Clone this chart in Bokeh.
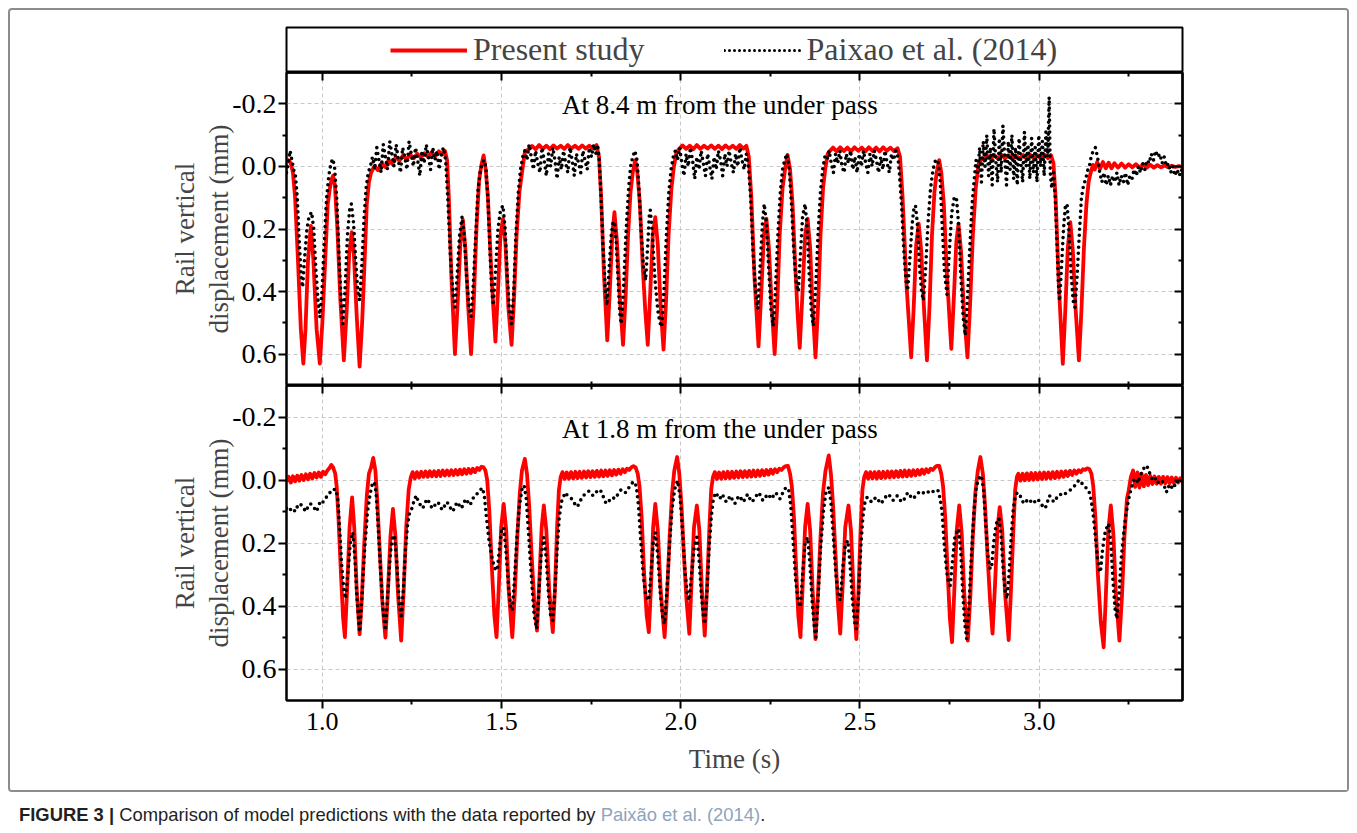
from bokeh.plotting import figure
from bokeh.models import (Range1d, LinearAxis, FixedTicker, PrintfTickFormatter,
                          Label, Legend, LegendItem, Div, Grid, ColumnDataSource, Spacer)
from bokeh.layouts import column, row
from bokeh.embed import file_html
from bokeh.resources import INLINE

# ---------------- data ----------------
x_major = [1.0, 1.5, 2.0, 2.5, 3.0]
x_minor = [1.25, 1.75, 2.25, 2.75, 3.25]
y_major = [-0.2, 0.0, 0.2, 0.4, 0.6]
y_minor = [-0.1, 0.1, 0.3, 0.5]
x_limits = (0.9, 3.4)
y_limits = (0.7, -0.3)
series_names = ["Present study", "Paixao et al. (2014)"]
panel_titles = ["At 8.4 m from the under pass", "At 1.8 m from the under pass"]

# (time s, displacement mm) -- top panel, model
top_model = [
 (0.900,-0.015),(0.905,-0.020),(0.912,-0.010),(0.918,0.020),(0.924,0.100),(0.932,0.300),(0.940,0.520),(0.947,0.630),
 (0.953,0.520),(0.960,0.300),(0.968,0.190),(0.975,0.300),(0.984,0.520),(0.993,0.630),(1.000,0.500),(1.008,0.300),
 (1.015,0.120),(1.021,0.070),(1.026,0.040),(1.030,0.030),(1.035,0.060),(1.042,0.200),(1.050,0.420),(1.060,0.620),
 (1.067,0.480),(1.075,0.280),(1.082,0.210),(1.088,0.280),(1.096,0.480),(1.104,0.640),(1.111,0.500),(1.118,0.300),
 (1.124,0.120),(1.130,0.050),(1.136,0.020),
 (1.145,0.000),(1.155,0.012),(1.165,-0.010),(1.175,0.002),(1.185,-0.020),(1.195,-0.008),(1.205,-0.030),(1.215,-0.018),
 (1.225,-0.035),(1.235,-0.022),(1.245,-0.038),(1.255,-0.026),(1.265,-0.040),(1.275,-0.028),(1.285,-0.042),(1.295,-0.030),
 (1.305,-0.045),(1.315,-0.033),(1.325,-0.048),(1.335,-0.038),(1.342,-0.050),
 (1.348,-0.020),(1.353,0.100),(1.360,0.350),(1.370,0.600),(1.377,0.450),(1.385,0.250),(1.392,0.170),(1.399,0.260),
 (1.407,0.450),(1.415,0.600),(1.422,0.450),(1.430,0.200),(1.437,0.050),(1.443,0.000),(1.450,-0.035),(1.456,0.010),
 (1.462,0.100),(1.470,0.300),(1.477,0.450),(1.483,0.560),(1.490,0.400),(1.497,0.220),(1.504,0.167),(1.511,0.250),
 (1.519,0.450),(1.528,0.570),(1.535,0.420),(1.542,0.220),(1.550,0.080),(1.557,0.020),(1.565,-0.045),
 (1.575,-0.055),(1.585,-0.065),(1.595,-0.055),(1.605,-0.068),(1.615,-0.056),(1.625,-0.066),(1.635,-0.055),(1.645,-0.067),
 (1.655,-0.057),(1.665,-0.066),(1.675,-0.056),(1.685,-0.068),(1.695,-0.057),(1.705,-0.066),(1.715,-0.056),(1.725,-0.067),
 (1.735,-0.057),(1.745,-0.066),(1.755,-0.058),(1.765,-0.068),
 (1.772,-0.030),(1.778,0.100),(1.786,0.350),(1.795,0.556),(1.802,0.400),(1.809,0.220),(1.815,0.146),(1.822,0.240),
 (1.830,0.420),(1.839,0.570),(1.846,0.420),(1.853,0.220),(1.860,0.080),(1.866,0.020),(1.873,-0.020),(1.879,0.020),
 (1.886,0.120),(1.894,0.320),(1.901,0.460),(1.908,0.570),(1.915,0.400),(1.922,0.220),(1.929,0.162),(1.936,0.250),
 (1.944,0.450),(1.952,0.585),(1.959,0.430),(1.966,0.220),(1.974,0.070),(1.981,0.000),(1.988,-0.045),
 (1.995,-0.055),(2.005,-0.067),(2.015,-0.056),(2.025,-0.066),(2.035,-0.055),(2.045,-0.068),(2.055,-0.056),(2.065,-0.066),
 (2.075,-0.057),(2.085,-0.067),(2.095,-0.056),(2.105,-0.066),(2.115,-0.055),(2.125,-0.067),(2.135,-0.057),(2.145,-0.066),
 (2.155,-0.056),(2.165,-0.068),(2.175,-0.057),(2.183,-0.066),
 (2.190,-0.030),(2.197,0.100),(2.206,0.360),(2.217,0.575),(2.224,0.420),(2.232,0.220),(2.239,0.167),(2.246,0.260),
 (2.254,0.450),(2.262,0.600),(2.269,0.450),(2.276,0.220),(2.284,0.070),(2.291,0.010),(2.298,-0.037),(2.305,0.010),
 (2.312,0.120),(2.320,0.330),(2.326,0.470),(2.332,0.580),(2.339,0.420),(2.347,0.220),(2.354,0.167),(2.361,0.260),
 (2.368,0.450),(2.376,0.610),(2.383,0.450),(2.390,0.220),(2.397,0.070),(2.403,0.010),(2.410,-0.040),
 (2.415,-0.048),(2.425,-0.060),(2.435,-0.048),(2.445,-0.061),(2.455,-0.049),(2.465,-0.060),(2.475,-0.048),(2.485,-0.061),
 (2.495,-0.050),(2.505,-0.060),(2.515,-0.048),(2.525,-0.061),(2.535,-0.049),(2.545,-0.060),(2.555,-0.048),(2.565,-0.061),
 (2.575,-0.050),(2.585,-0.060),(2.595,-0.049),(2.605,-0.058),
 (2.612,-0.030),(2.619,0.100),(2.630,0.380),(2.643,0.610),(2.650,0.450),(2.657,0.250),(2.664,0.183),(2.671,0.270),
 (2.679,0.460),(2.687,0.620),(2.694,0.450),(2.701,0.220),(2.708,0.080),(2.714,0.020),(2.721,-0.020),(2.727,0.020),
 (2.734,0.120),(2.742,0.330),(2.749,0.470),(2.755,0.583),(2.762,0.420),(2.769,0.240),(2.775,0.183),(2.782,0.270),
 (2.790,0.460),(2.800,0.610),(2.807,0.450),(2.815,0.220),(2.823,0.070),(2.831,-0.008),(2.840,-0.025),
 (2.845,-0.022),(2.855,-0.034),(2.865,-0.024),(2.875,-0.036),(2.885,-0.025),(2.895,-0.037),(2.905,-0.026),(2.915,-0.036),
 (2.925,-0.025),(2.935,-0.035),(2.945,-0.024),(2.955,-0.036),(2.965,-0.025),(2.975,-0.037),(2.985,-0.026),(2.995,-0.036),
 (3.005,-0.025),(3.015,-0.037),(3.025,-0.026),(3.033,-0.036),
 (3.040,-0.010),(3.046,0.100),(3.055,0.380),(3.066,0.631),(3.073,0.460),(3.080,0.260),(3.087,0.178),(3.094,0.270),
 (3.102,0.460),(3.111,0.620),(3.118,0.460),(3.125,0.260),(3.132,0.120),(3.138,0.050),(3.143,0.024),(3.150,-0.005),
 (3.155,0.010),(3.162,-0.014),(3.170,0.008),(3.178,-0.014),(3.186,0.006),(3.194,-0.012),(3.202,0.006),(3.210,-0.010),
 (3.220,0.004),(3.230,-0.009),(3.240,0.004),(3.250,-0.007),(3.260,0.003),(3.270,-0.007),(3.280,0.004),(3.290,-0.006),
 (3.300,0.004),(3.310,-0.005),(3.320,0.004),(3.330,-0.004),(3.340,0.003),(3.350,-0.003),(3.360,0.003),(3.370,-0.002),
 (3.380,0.002),(3.390,-0.001),(3.400,0.002),
]

# top panel, measurements (Paixao et al.)
top_exp = [
 (0.900,0.020),(0.905,-0.010),(0.910,-0.050),(0.915,-0.020),(0.920,0.010),(0.925,0.030),(0.930,0.100),(0.936,0.250),
 (0.941,0.350),(0.945,0.386),(0.950,0.300),(0.957,0.200),(0.963,0.160),(0.970,0.146),(0.976,0.200),(0.982,0.330),
 (0.988,0.430),(0.993,0.482),(0.999,0.400),(1.005,0.250),(1.012,0.100),(1.018,0.030),(1.024,-0.010),(1.029,-0.024),
 (1.034,0.000),(1.040,0.100),(1.046,0.270),(1.052,0.420),(1.057,0.503),(1.063,0.400),(1.070,0.220),(1.076,0.140),
 (1.081,0.120),(1.087,0.180),(1.093,0.300),(1.099,0.400),(1.104,0.428),(1.110,0.320),(1.116,0.170),(1.122,0.070),
 (1.128,0.020),(1.134,0.000),
 (1.140,-0.030),(1.146,0.010),(1.152,-0.060),(1.158,-0.020),(1.164,0.020),(1.170,-0.070),(1.176,-0.030),(1.182,0.010),
 (1.188,-0.080),(1.194,-0.040),(1.200,0.000),(1.206,-0.070),(1.212,-0.020),(1.218,0.020),(1.224,-0.060),(1.230,-0.030),
 (1.236,0.010),(1.242,-0.080),(1.248,-0.040),(1.254,0.000),(1.260,-0.060),(1.266,-0.020),(1.272,0.030),(1.278,-0.050),
 (1.284,-0.010),(1.290,-0.070),(1.296,-0.030),(1.302,0.010),(1.308,-0.060),(1.314,-0.020),(1.320,-0.050),(1.326,0.010),
 (1.332,-0.040),(1.338,-0.060),
 (1.344,-0.020),(1.350,0.100),(1.357,0.280),(1.364,0.400),(1.370,0.450),(1.376,0.350),(1.383,0.220),(1.390,0.160),
 (1.396,0.220),(1.403,0.360),(1.409,0.450),(1.415,0.480),(1.421,0.380),(1.428,0.220),(1.434,0.080),(1.440,0.020),
 (1.446,-0.010),(1.451,-0.020),(1.456,0.000),(1.462,0.100),(1.468,0.280),(1.473,0.400),(1.477,0.444),(1.483,0.340),
 (1.490,0.200),(1.497,0.140),(1.504,0.125),(1.510,0.200),(1.516,0.350),(1.522,0.460),(1.528,0.503),(1.534,0.400),
 (1.540,0.220),(1.547,0.080),(1.553,0.010),(1.559,-0.030),
 (1.565,-0.050),(1.571,-0.020),(1.577,-0.070),(1.583,-0.030),(1.589,0.010),(1.595,-0.050),(1.601,-0.010),(1.607,0.020),
 (1.613,-0.060),(1.619,-0.020),(1.625,0.030),(1.631,-0.040),(1.637,0.000),(1.643,-0.060),(1.649,-0.020),(1.655,0.040),
 (1.661,-0.030),(1.667,0.010),(1.673,-0.050),(1.679,-0.010),(1.685,0.020),(1.691,-0.060),(1.697,-0.020),(1.703,0.030),
 (1.709,-0.040),(1.715,-0.010),(1.721,0.020),(1.727,-0.050),(1.733,-0.020),(1.739,0.010),(1.745,-0.060),(1.751,-0.030),
 (1.757,-0.070),(1.763,-0.040),(1.768,-0.070),
 (1.772,-0.030),(1.777,0.080),(1.783,0.250),(1.789,0.380),(1.794,0.444),(1.800,0.330),(1.806,0.220),(1.811,0.180),
 (1.815,0.176),(1.820,0.240),(1.826,0.380),(1.830,0.470),(1.834,0.503),(1.840,0.400),(1.847,0.220),(1.854,0.080),
 (1.860,0.000),(1.866,-0.030),(1.872,-0.050),(1.878,-0.020),(1.884,0.080),(1.890,0.220),(1.896,0.320),(1.902,0.364),
 (1.908,0.250),(1.912,0.160),(1.915,0.140),(1.920,0.200),(1.928,0.360),(1.936,0.460),(1.942,0.500),(1.947,0.513),
 (1.953,0.400),(1.960,0.220),(1.967,0.080),(1.973,0.010),(1.979,-0.030),(1.985,-0.050),
 (1.991,-0.020),(1.997,-0.060),(2.003,-0.010),(2.009,0.030),(2.015,-0.040),(2.021,0.000),(2.027,-0.060),(2.033,-0.020),
 (2.039,0.040),(2.045,-0.030),(2.051,0.010),(2.057,-0.050),(2.063,-0.010),(2.069,0.030),(2.075,-0.040),(2.081,0.000),
 (2.087,0.040),(2.093,-0.030),(2.099,0.010),(2.105,-0.050),(2.111,-0.020),(2.117,0.030),(2.123,-0.040),(2.129,0.000),
 (2.135,-0.050),(2.141,-0.010),(2.147,0.020),(2.153,-0.040),(2.159,0.000),(2.165,-0.060),(2.171,-0.020),(2.177,0.010),
 (2.183,-0.040),
 (2.189,0.000),(2.195,0.100),(2.202,0.280),(2.209,0.400),(2.215,0.455),(2.221,0.330),(2.228,0.180),(2.233,0.120),
 (2.239,0.180),(2.246,0.340),(2.252,0.460),(2.258,0.510),(2.264,0.400),(2.271,0.220),(2.278,0.080),(2.284,0.010),
 (2.290,-0.020),(2.296,-0.040),(2.302,0.000),(2.309,0.120),(2.316,0.280),(2.322,0.370),(2.328,0.400),(2.334,0.280),
 (2.340,0.160),(2.347,0.120),(2.353,0.200),(2.359,0.360),(2.365,0.470),(2.370,0.510),(2.376,0.400),(2.383,0.220),
 (2.390,0.080),(2.396,0.010),(2.402,-0.030),(2.408,-0.020),
 (2.414,-0.050),(2.420,-0.010),(2.426,0.020),(2.432,-0.040),(2.438,-0.010),(2.444,-0.050),(2.450,0.000),(2.456,0.020),
 (2.462,-0.040),(2.468,-0.010),(2.474,-0.050),(2.480,0.010),(2.486,-0.030),(2.492,0.020),(2.498,-0.040),(2.504,0.000),
 (2.510,-0.050),(2.516,-0.010),(2.522,0.020),(2.528,-0.040),(2.534,0.000),(2.540,-0.050),(2.546,-0.020),(2.552,0.020),
 (2.558,-0.030),(2.564,0.010),(2.570,-0.050),(2.576,-0.010),(2.582,0.020),(2.588,-0.040),(2.594,-0.020),(2.600,-0.050),
 (2.606,-0.030),
 (2.610,0.020),(2.616,0.120),(2.622,0.260),(2.628,0.360),(2.633,0.397),(2.639,0.300),(2.646,0.180),(2.651,0.130),
 (2.655,0.125),(2.660,0.180),(2.666,0.320),(2.672,0.400),(2.677,0.428),(2.683,0.330),(2.690,0.180),(2.697,0.070),
 (2.704,0.010),(2.711,-0.020),(2.718,-0.019),(2.724,0.050),(2.730,0.200),(2.736,0.340),(2.743,0.409),(2.749,0.280),
 (2.756,0.150),(2.763,0.100),(2.769,0.098),(2.775,0.180),(2.781,0.340),(2.788,0.480),(2.794,0.540),(2.800,0.420),
 (2.807,0.250),(2.813,0.120),(2.819,0.040),(2.824,-0.020),
 (2.829,0.020),(2.834,-0.060),(2.839,0.050),(2.844,-0.080),(2.849,0.000),(2.854,-0.100),(2.859,0.030),(2.864,-0.060),
 (2.869,0.060),(2.874,-0.120),(2.879,-0.020),(2.884,0.050),(2.889,-0.090),(2.894,0.020),(2.899,-0.130),(2.904,-0.030),
 (2.909,0.060),(2.914,-0.080),(2.919,0.010),(2.924,-0.100),(2.929,0.040),(2.934,-0.060),(2.939,0.060),(2.944,-0.090),
 (2.949,-0.010),(2.954,0.050),(2.959,-0.110),(2.964,0.000),(2.969,-0.070),(2.974,0.040),(2.979,-0.090),(2.984,0.020),
 (2.989,-0.060),(2.994,0.050),(2.999,-0.100),(3.004,0.000),(3.009,-0.080),(3.014,0.030),(3.019,-0.110),(3.024,-0.030),
 (3.028,-0.221),(3.031,0.020),(3.035,0.070),(3.040,0.020),(3.045,0.100),
 (3.050,0.250),(3.054,0.380),(3.057,0.430),(3.062,0.330),(3.068,0.200),(3.073,0.130),(3.078,0.120),(3.083,0.200),
 (3.089,0.340),(3.095,0.430),(3.100,0.450),(3.106,0.350),(3.112,0.220),(3.118,0.100),(3.124,0.060),(3.130,0.040),
 (3.136,0.010),(3.140,0.000),(3.145,-0.030),(3.151,-0.050),(3.157,-0.060),(3.163,-0.030),(3.169,0.020),(3.175,0.050),
 (3.181,0.020),(3.187,0.060),(3.193,0.030),(3.199,0.060),(3.205,0.030),(3.211,0.050),(3.217,0.020),(3.223,0.060),
 (3.229,0.030),(3.235,0.050),(3.241,0.020),(3.247,0.060),(3.253,0.030),(3.259,0.040),(3.265,0.010),(3.271,0.030),
 (3.277,0.000),(3.283,0.020),(3.289,-0.010),(3.295,0.010),(3.301,-0.020),(3.307,-0.010),(3.313,-0.040),(3.319,-0.020),
 (3.325,-0.050),(3.331,-0.030),(3.337,-0.040),(3.343,-0.010),(3.349,-0.030),(3.355,0.000),(3.361,-0.010),(3.367,0.020),
 (3.373,0.000),(3.379,0.030),(3.385,0.010),(3.391,0.030),(3.397,0.010),(3.400,0.020),
]

# bottom panel, model
bottom_model = [
 (0.900,0.005),(0.906,-0.010),(0.912,0.008),(0.918,-0.012),(0.924,0.004),(0.930,-0.014),(0.936,0.002),(0.942,-0.016),
 (0.948,0.000),(0.954,-0.018),(0.960,-0.002),(0.966,-0.020),(0.972,-0.005),(0.978,-0.022),(0.984,-0.008),(0.990,-0.024),
 (0.996,-0.010),(1.002,-0.026),(1.008,-0.018),(1.014,-0.030),(1.020,-0.038),(1.025,-0.048),(1.030,-0.040),(1.036,-0.020),
 (1.040,0.020),
 (1.045,0.120),(1.052,0.300),(1.058,0.440),(1.063,0.499),(1.069,0.350),(1.076,0.150),(1.083,0.055),(1.089,0.150),
 (1.096,0.350),(1.104,0.490),(1.110,0.380),(1.117,0.200),(1.124,0.050),(1.130,-0.020),(1.136,-0.040),(1.142,-0.070),
 (1.148,-0.030),(1.153,0.060),(1.160,0.220),(1.167,0.380),(1.176,0.500),(1.182,0.380),(1.190,0.180),(1.197,0.092),
 (1.204,0.180),(1.211,0.360),(1.220,0.510),(1.227,0.350),(1.234,0.150),(1.241,0.030),(1.247,-0.010),(1.252,-0.025),
 (1.258,-0.005),(1.264,-0.025),(1.270,-0.008),(1.276,-0.026),(1.282,-0.010),(1.288,-0.027),(1.294,-0.010),(1.300,-0.028),
 (1.306,-0.012),(1.312,-0.028),(1.318,-0.012),(1.324,-0.029),(1.330,-0.013),(1.336,-0.030),(1.342,-0.014),(1.348,-0.030),
 (1.354,-0.015),(1.360,-0.031),(1.366,-0.016),(1.372,-0.032),(1.378,-0.017),(1.384,-0.033),(1.390,-0.018),(1.396,-0.034),
 (1.402,-0.020),(1.408,-0.035),(1.414,-0.022),(1.420,-0.036),(1.426,-0.025),(1.432,-0.038),(1.438,-0.032),(1.444,-0.042),
 (1.450,-0.040),(1.455,-0.030),(1.460,0.000),
 (1.466,0.100),(1.473,0.280),(1.480,0.430),(1.486,0.499),(1.492,0.350),(1.499,0.150),(1.506,0.076),(1.513,0.160),
 (1.520,0.350),(1.530,0.499),(1.537,0.360),(1.544,0.180),(1.551,0.040),(1.557,-0.030),(1.565,-0.067),(1.571,-0.020),
 (1.577,0.080),(1.584,0.240),(1.591,0.380),(1.599,0.478),(1.605,0.330),(1.612,0.150),(1.618,0.081),(1.625,0.160),
 (1.633,0.350),(1.643,0.483),(1.649,0.350),(1.655,0.150),(1.660,0.033),(1.665,-0.010),
 (1.670,-0.025),(1.676,-0.003),(1.682,-0.024),(1.688,-0.004),(1.694,-0.025),(1.700,-0.005),(1.706,-0.026),(1.712,-0.006),
 (1.718,-0.026),(1.724,-0.007),(1.730,-0.027),(1.736,-0.008),(1.742,-0.028),(1.748,-0.009),(1.754,-0.028),(1.760,-0.010),
 (1.766,-0.029),(1.772,-0.011),(1.778,-0.030),(1.784,-0.012),(1.790,-0.030),(1.796,-0.013),(1.802,-0.031),(1.808,-0.015),
 (1.814,-0.032),(1.820,-0.017),(1.826,-0.033),(1.832,-0.020),(1.838,-0.034),(1.844,-0.025),(1.850,-0.036),(1.856,-0.032),
 (1.862,-0.040),(1.868,-0.044),(1.874,-0.040),(1.880,-0.020),(1.885,0.020),
 (1.891,0.120),(1.898,0.300),(1.905,0.430),(1.911,0.483),(1.917,0.340),(1.923,0.150),(1.929,0.076),(1.936,0.160),
 (1.944,0.350),(1.955,0.499),(1.962,0.360),(1.969,0.180),(1.976,0.040),(1.982,-0.030),(1.990,-0.073),(1.996,-0.020),
 (2.002,0.080),(2.009,0.240),(2.016,0.380),(2.024,0.488),(2.030,0.330),(2.037,0.150),(2.045,0.081),(2.052,0.160),
 (2.059,0.350),(2.067,0.494),(2.073,0.350),(2.080,0.150),(2.085,0.030),(2.090,-0.010),
 (2.095,-0.025),(2.101,-0.003),(2.107,-0.024),(2.113,-0.004),(2.119,-0.025),(2.125,-0.005),(2.131,-0.026),(2.137,-0.006),
 (2.143,-0.026),(2.149,-0.007),(2.155,-0.027),(2.161,-0.008),(2.167,-0.028),(2.173,-0.009),(2.179,-0.028),(2.185,-0.010),
 (2.191,-0.029),(2.197,-0.011),(2.203,-0.030),(2.209,-0.012),(2.215,-0.030),(2.221,-0.013),(2.227,-0.031),(2.233,-0.015),
 (2.239,-0.032),(2.245,-0.017),(2.251,-0.033),(2.257,-0.020),(2.263,-0.034),(2.269,-0.025),(2.275,-0.036),(2.281,-0.032),
 (2.287,-0.040),(2.293,-0.044),(2.299,-0.045),(2.305,-0.020),(2.310,0.020),
 (2.316,0.120),(2.322,0.280),(2.328,0.430),(2.334,0.499),(2.340,0.340),(2.347,0.150),(2.354,0.076),(2.361,0.160),
 (2.368,0.350),(2.376,0.505),(2.383,0.360),(2.390,0.180),(2.397,0.040),(2.404,-0.030),(2.413,-0.078),(2.419,-0.020),
 (2.425,0.080),(2.432,0.240),(2.438,0.380),(2.445,0.488),(2.452,0.330),(2.459,0.150),(2.468,0.081),(2.475,0.160),
 (2.482,0.350),(2.490,0.505),(2.496,0.350),(2.502,0.150),(2.507,0.030),(2.512,-0.010),
 (2.517,-0.025),(2.523,-0.004),(2.529,-0.025),(2.535,-0.005),(2.541,-0.025),(2.547,-0.005),(2.553,-0.026),(2.559,-0.006),
 (2.565,-0.026),(2.571,-0.007),(2.577,-0.027),(2.583,-0.008),(2.589,-0.027),(2.595,-0.009),(2.601,-0.028),(2.607,-0.010),
 (2.613,-0.029),(2.619,-0.011),(2.625,-0.030),(2.631,-0.012),(2.637,-0.030),(2.643,-0.013),(2.649,-0.031),(2.655,-0.015),
 (2.661,-0.032),(2.667,-0.017),(2.673,-0.033),(2.679,-0.020),(2.685,-0.034),(2.691,-0.025),(2.697,-0.036),(2.703,-0.032),
 (2.709,-0.040),(2.715,-0.045),(2.721,-0.045),(2.727,-0.020),(2.732,0.020),
 (2.738,0.120),(2.745,0.300),(2.751,0.440),(2.757,0.515),(2.763,0.360),(2.770,0.160),(2.777,0.081),(2.784,0.170),
 (2.791,0.360),(2.801,0.510),(2.808,0.370),(2.815,0.180),(2.822,0.040),(2.829,-0.030),(2.836,-0.073),(2.843,-0.020),
 (2.849,0.080),(2.856,0.240),(2.863,0.380),(2.870,0.488),(2.877,0.330),(2.884,0.150),(2.890,0.086),(2.897,0.160),
 (2.905,0.360),(2.915,0.508),(2.921,0.360),(2.928,0.160),(2.933,0.033),(2.938,-0.010),
 (2.942,-0.020),(2.948,0.002),(2.954,-0.020),(2.960,0.001),(2.966,-0.021),(2.972,0.000),(2.978,-0.022),(2.984,-0.001),
 (2.990,-0.022),(2.996,-0.002),(3.002,-0.023),(3.008,-0.003),(3.014,-0.024),(3.020,-0.004),(3.026,-0.024),(3.032,-0.005),
 (3.038,-0.025),(3.044,-0.006),(3.050,-0.026),(3.056,-0.008),(3.062,-0.027),(3.068,-0.010),(3.074,-0.028),(3.080,-0.013),
 (3.086,-0.029),(3.092,-0.016),(3.098,-0.030),(3.104,-0.020),(3.110,-0.031),(3.116,-0.025),(3.122,-0.034),(3.128,-0.032),
 (3.134,-0.037),(3.140,-0.035),(3.146,-0.020),(3.151,0.020),
 (3.157,0.120),(3.164,0.300),(3.172,0.450),(3.180,0.531),(3.186,0.370),(3.193,0.160),(3.200,0.081),(3.207,0.170),
 (3.214,0.360),(3.224,0.510),(3.231,0.370),(3.238,0.180),(3.245,0.060),(3.250,0.033),(3.256,-0.010),(3.262,-0.030),
 (3.268,0.022),(3.274,-0.024),(3.280,0.024),(3.286,-0.020),(3.292,0.020),(3.298,-0.016),(3.304,0.016),(3.310,-0.013),
 (3.316,0.013),(3.322,-0.011),(3.328,0.012),(3.334,-0.010),(3.340,0.012),(3.346,-0.010),(3.352,0.011),(3.358,-0.009),
 (3.364,0.010),(3.370,-0.008),(3.376,0.010),(3.382,-0.007),(3.388,0.008),(3.394,-0.006),(3.400,0.006),
]

# bottom panel, measurements (Paixao et al.)
bottom_exp = [
 (0.900,0.090),(0.906,0.085),(0.912,0.095),(0.918,0.090),(0.924,0.100),(0.930,0.085),(0.936,0.075),(0.942,0.080),
 (0.948,0.090),(0.954,0.100),(0.960,0.085),(0.966,0.075),(0.972,0.080),(0.978,0.090),(0.984,0.100),(0.990,0.080),
 (0.996,0.065),(1.002,0.070),(1.008,0.060),(1.014,0.050),(1.020,0.040),(1.026,0.040),(1.032,0.030),(1.038,0.030),
 (1.043,0.060),(1.048,0.150),(1.054,0.270),(1.060,0.350),(1.065,0.377),(1.071,0.300),(1.078,0.200),(1.085,0.166),
 (1.091,0.250),(1.097,0.380),(1.104,0.483),(1.110,0.380),(1.118,0.220),(1.126,0.100),(1.134,0.040),(1.140,0.010),
 (1.145,0.007),(1.150,0.040),(1.156,0.150),(1.163,0.300),(1.170,0.420),(1.176,0.478),(1.183,0.350),(1.190,0.230),
 (1.196,0.180),(1.201,0.176),(1.207,0.250),(1.214,0.380),(1.220,0.440),(1.226,0.350),(1.232,0.220),(1.238,0.140),
 (1.244,0.100),(1.250,0.090),(1.256,0.065),(1.262,0.049),
 (1.268,0.070),(1.274,0.080),(1.280,0.090),(1.286,0.075),(1.292,0.060),(1.298,0.070),(1.304,0.085),(1.310,0.090),
 (1.316,0.075),(1.322,0.070),(1.328,0.080),(1.334,0.095),(1.340,0.085),(1.346,0.070),(1.352,0.075),(1.358,0.090),
 (1.364,0.100),(1.370,0.085),(1.376,0.070),(1.382,0.080),(1.388,0.090),(1.394,0.075),(1.400,0.060),(1.406,0.070),
 (1.412,0.080),(1.418,0.065),(1.424,0.050),(1.430,0.045),(1.436,0.040),(1.442,0.030),(1.447,0.025),(1.452,0.050),
 (1.458,0.120),(1.466,0.200),(1.474,0.250),(1.481,0.280),(1.488,0.287),(1.494,0.220),(1.500,0.160),(1.506,0.150),
 (1.512,0.220),(1.519,0.330),(1.525,0.400),(1.530,0.414),(1.536,0.320),(1.543,0.180),(1.550,0.080),(1.557,0.030),
 (1.563,0.017),(1.569,0.060),(1.576,0.180),(1.584,0.320),(1.591,0.430),(1.598,0.472),(1.604,0.360),(1.611,0.230),
 (1.618,0.182),(1.624,0.240),(1.631,0.360),(1.637,0.430),(1.643,0.446),(1.649,0.350),(1.655,0.220),(1.661,0.120),
 (1.667,0.070),(1.672,0.055),
 (1.678,0.040),(1.684,0.050),(1.690,0.055),(1.696,0.060),(1.702,0.070),(1.708,0.085),(1.714,0.080),(1.720,0.065),
 (1.726,0.055),(1.732,0.045),(1.738,0.040),(1.744,0.035),(1.750,0.045),(1.756,0.050),(1.762,0.040),(1.768,0.035),
 (1.774,0.030),(1.780,0.040),(1.786,0.060),(1.792,0.075),(1.798,0.070),(1.804,0.060),(1.810,0.055),(1.816,0.060),
 (1.822,0.050),(1.828,0.040),(1.834,0.030),(1.840,0.035),(1.846,0.040),(1.852,0.030),(1.858,0.020),(1.864,0.010),
 (1.870,0.005),(1.876,0.020),(1.882,0.080),
 (1.889,0.200),(1.896,0.310),(1.903,0.370),(1.911,0.382),(1.917,0.300),(1.923,0.200),(1.929,0.166),(1.936,0.240),
 (1.943,0.360),(1.950,0.440),(1.955,0.457),(1.962,0.340),(1.969,0.200),(1.976,0.090),(1.983,0.030),(1.991,0.002),
 (1.998,0.050),(2.005,0.160),(2.012,0.290),(2.019,0.370),(2.024,0.382),(2.030,0.300),(2.038,0.210),(2.045,0.182),
 (2.051,0.250),(2.058,0.370),(2.064,0.440),(2.067,0.457),(2.073,0.360),(2.079,0.220),(2.085,0.120),(2.091,0.060),
 (2.097,0.040),
 (2.103,0.050),(2.109,0.060),(2.115,0.045),(2.121,0.055),(2.127,0.070),(2.133,0.060),(2.139,0.050),(2.145,0.065),
 (2.151,0.075),(2.157,0.060),(2.163,0.050),(2.169,0.060),(2.175,0.070),(2.181,0.055),(2.187,0.045),(2.193,0.060),
 (2.199,0.070),(2.205,0.060),(2.211,0.050),(2.217,0.040),(2.223,0.050),(2.229,0.065),(2.235,0.060),(2.241,0.045),
 (2.247,0.050),(2.253,0.060),(2.259,0.050),(2.265,0.040),(2.271,0.050),(2.277,0.060),(2.283,0.045),(2.289,0.030),
 (2.295,0.023),(2.301,0.030),(2.307,0.080),
 (2.314,0.200),(2.321,0.320),(2.328,0.390),(2.334,0.403),(2.340,0.300),(2.347,0.200),(2.354,0.182),(2.360,0.260),
 (2.367,0.390),(2.373,0.470),(2.377,0.499),(2.383,0.380),(2.390,0.220),(2.398,0.100),(2.405,0.040),(2.413,0.023),
 (2.419,0.070),(2.426,0.180),(2.433,0.300),(2.440,0.370),(2.445,0.382),(2.452,0.280),(2.459,0.210),(2.466,0.192),
 (2.472,0.260),(2.479,0.380),(2.485,0.450),(2.490,0.472),(2.496,0.370),(2.502,0.220),(2.508,0.120),(2.514,0.070),
 (2.520,0.055),
 (2.526,0.060),(2.532,0.070),(2.538,0.065),(2.544,0.055),(2.550,0.060),(2.556,0.075),(2.562,0.070),(2.568,0.060),
 (2.574,0.050),(2.580,0.045),(2.586,0.055),(2.592,0.065),(2.598,0.060),(2.604,0.050),(2.610,0.060),(2.616,0.070),
 (2.622,0.065),(2.628,0.050),(2.634,0.040),(2.640,0.050),(2.646,0.060),(2.652,0.055),(2.658,0.045),(2.664,0.040),
 (2.670,0.035),(2.676,0.040),(2.682,0.045),(2.688,0.040),(2.694,0.035),(2.700,0.040),(2.706,0.035),(2.712,0.030),
 (2.718,0.034),(2.724,0.060),(2.729,0.100),
 (2.735,0.200),(2.742,0.290),(2.748,0.330),(2.752,0.335),(2.758,0.260),(2.765,0.180),(2.775,0.155),(2.781,0.220),
 (2.787,0.360),(2.793,0.460),(2.798,0.504),(2.804,0.400),(2.811,0.240),(2.818,0.100),(2.825,0.020),(2.832,-0.005),
 (2.839,-0.014),(2.845,0.030),(2.851,0.140),(2.857,0.240),(2.863,0.280),(2.867,0.282),(2.873,0.200),(2.880,0.140),
 (2.888,0.122),(2.894,0.180),(2.900,0.290),(2.906,0.360),(2.910,0.377),(2.916,0.300),(2.922,0.180),(2.928,0.090),
 (2.934,0.050),(2.939,0.040),
 (2.945,0.045),(2.951,0.060),(2.957,0.075),(2.963,0.070),(2.969,0.060),(2.975,0.065),(2.981,0.075),(2.987,0.070),
 (2.993,0.060),(2.999,0.065),(3.005,0.075),(3.011,0.085),(3.017,0.090),(3.023,0.070),(3.029,0.050),(3.035,0.060),
 (3.041,0.070),(3.047,0.060),(3.053,0.050),(3.059,0.045),(3.065,0.050),(3.071,0.045),(3.077,0.040),(3.083,0.035),
 (3.089,0.030),(3.095,0.025),(3.101,0.015),(3.107,0.005),(3.113,0.000),(3.119,0.010),(3.125,0.020),(3.131,0.025),
 (3.137,0.030),(3.143,0.050),
 (3.150,0.100),(3.157,0.180),(3.163,0.250),(3.168,0.285),(3.171,0.293),(3.177,0.220),(3.185,0.160),(3.194,0.139),
 (3.200,0.200),(3.206,0.320),(3.212,0.410),(3.217,0.441),(3.223,0.360),(3.229,0.250),(3.235,0.180),(3.242,0.110),
 (3.249,0.065),(3.256,0.030),(3.263,0.002),(3.270,-0.005),(3.276,0.010),(3.282,-0.013),(3.288,-0.030),(3.294,-0.040),
 (3.300,-0.046),(3.306,-0.030),(3.312,-0.010),(3.318,0.002),(3.324,-0.005),(3.330,0.010),(3.337,0.000),(3.346,0.007),
 (3.355,0.039),(3.361,0.020),(3.367,0.030),(3.374,0.012),(3.380,0.020),(3.386,0.005),(3.392,0.010),(3.397,0.002),
 (3.400,0.005),
]

# ---------------- styling / layout ----------------
RED = "#ff0000"
SERIF = "Liberation Serif"
W = 1337
LEFT = 276
RIGHT = 165
DOT_DASH = "0 6"
DOT_WIDTH = 3.6


def base_axis(ax):
    ax.axis_line_width = 2
    ax.axis_line_color = "black"
    ax.major_tick_line_width = 2
    ax.minor_tick_line_width = 2
    ax.major_tick_line_color = "black"
    ax.minor_tick_line_color = "black"


def labelled_axis(ticks, minors, font_size):
    ax = LinearAxis(ticker=FixedTicker(ticks=ticks, minor_ticks=minors))
    base_axis(ax)
    ax.major_tick_in, ax.major_tick_out = 0, 8
    ax.minor_tick_in, ax.minor_tick_out = 0, 4
    ax.formatter = PrintfTickFormatter(format="%.1f")
    ax.major_label_text_font = SERIF
    ax.major_label_text_font_size = font_size
    ax.major_label_text_color = "black"
    return ax


def inner_ticks(p, side, majors, minors):
    # tick-only axes (no labels) pointing into the frame
    for vals, length in ((majors, 8), (minors, 4)):
        ax = LinearAxis(ticker=FixedTicker(ticks=[], minor_ticks=vals))
        base_axis(ax)
        ax.major_tick_in, ax.major_tick_out = 0, 0
        ax.minor_tick_in, ax.minor_tick_out = length, 0
        ax.major_label_standoff = 0
        ax.axis_label_standoff = 0
        p.add_layout(ax, side)


shared_x = Range1d(*x_limits)


def make_panel(height, bottom_border, model, exp, title, title_y, is_bottom):
    p = figure(width=W, height=height, x_range=shared_x, y_range=Range1d(*y_limits),
               x_axis_type=None, y_axis_type=None, output_backend="svg",
               toolbar_location=None, min_border_left=LEFT, min_border_right=RIGHT,
               min_border_top=0, min_border_bottom=bottom_border,
               outline_line_color="black", outline_line_width=2,
               background_fill_color="white", border_fill_color="white")
    p.add_layout(Grid(dimension=0, ticker=FixedTicker(ticks=x_major),
                      grid_line_color="#c8c8c8", grid_line_dash="4 3", grid_line_width=1))
    p.add_layout(Grid(dimension=1, ticker=FixedTicker(ticks=y_major),
                      grid_line_color="#c8c8c8", grid_line_dash="4 3", grid_line_width=1))

    left = labelled_axis(y_major, y_minor, "28px")
    left.major_label_standoff = 2
    left.axis_label = "Rail vertical\ndisplacement (mm)"
    left.axis_label_text_font = SERIF
    left.axis_label_text_font_size = "27px"
    left.axis_label_text_font_style = "normal"
    left.axis_label_text_line_height = 1.13
    left.axis_label_standoff = -5
    p.add_layout(left, "left")

    inner_ticks(p, "right", y_major, y_minor)
    inner_ticks(p, "above", x_major, x_minor)
    if is_bottom:
        bottom = labelled_axis(x_major, x_minor, "26px")
        bottom.major_label_standoff = 4
        bottom.axis_label = "Time (s)"
        bottom.axis_label_text_font = SERIF
        bottom.axis_label_text_font_size = "27px"
        bottom.axis_label_text_font_style = "normal"
        bottom.axis_label_standoff = 11
        p.add_layout(bottom, "below")
    else:
        inner_ticks(p, "below", x_major, x_minor)

    ms = ColumnDataSource(dict(t=[a for a, b in model], d=[b for a, b in model]))
    es = ColumnDataSource(dict(t=[a for a, b in exp], d=[b for a, b in exp]))
    p.line("t", "d", source=ms, line_color=RED, line_width=3.8, line_join="round")
    p.line("t", "d", source=es, line_color="black", line_width=DOT_WIDTH,
           line_dash=DOT_DASH, line_cap="round", line_join="round")

    p.add_layout(Label(x=1.669, y=title_y, text=title, text_font=SERIF,
                       text_font_size="27px", text_baseline="middle",
                       text_align="left", text_color="black"))
    return p


# legend strip (proxy renderers sit outside the visible range)
leg = figure(width=W, height=62, x_range=Range1d(0, 1), y_range=Range1d(0, 1),
             x_axis_type=None, y_axis_type=None, output_backend="svg",
             toolbar_location=None, min_border_left=LEFT, min_border_right=RIGHT,
             min_border_top=17, min_border_bottom=0,
             outline_line_color="black", outline_line_width=2)
proxy = ColumnDataSource(dict(x=[-5.0, -4.0], y=[-5.0, -5.0]))
r1 = leg.line("x", "y", source=proxy, line_color=RED, line_width=3.8)
r2 = leg.line("x", "y", source=proxy, line_color="black", line_width=3.0,
              line_dash="0 5", line_cap="round")
legend = Legend(items=[LegendItem(label=series_names[0], renderers=[r1]),
                       LegendItem(label=series_names[1], renderers=[r2])],
                orientation="horizontal", location=(104, 4), padding=0, margin=0,
                spacing=79, glyph_width=77, glyph_height=30, label_standoff=6,
                label_text_font=SERIF, label_text_font_size="32px", label_height=36,
                border_line_alpha=0, background_fill_alpha=0)
leg.add_layout(legend, "center")

top_panel = make_panel(313, 0, top_model, top_exp, panel_titles[0], -0.195, False)
bottom_panel = make_panel(405, 90, bottom_model, bottom_exp, panel_titles[1], -0.163, True)

framed = column(leg, top_panel, bottom_panel,
                styles={"border": "2px solid #8c8c8c", "border-radius": "4px"})

caption = Div(
    text=('<span style="font-family: \'Liberation Sans\', Arial, sans-serif; font-size:18.4px; color:#231f20;">'
          '<b>FIGURE 3 |</b> Comparison of model predictions with the data reported by '
          '<span style="color:#8da4bd;">Paix\u00e3o et al. (2014)</span>.</span>'),
    width=1330, height=30,
    styles={"padding-left": "6px", "padding-top": "5px", "box-sizing": "border-box"})

layout = column(Spacer(height=8),
                row(Spacer(width=8), framed),
                row(Spacer(width=8), caption))

open("out.html", "w").write(file_html(layout, INLINE))
